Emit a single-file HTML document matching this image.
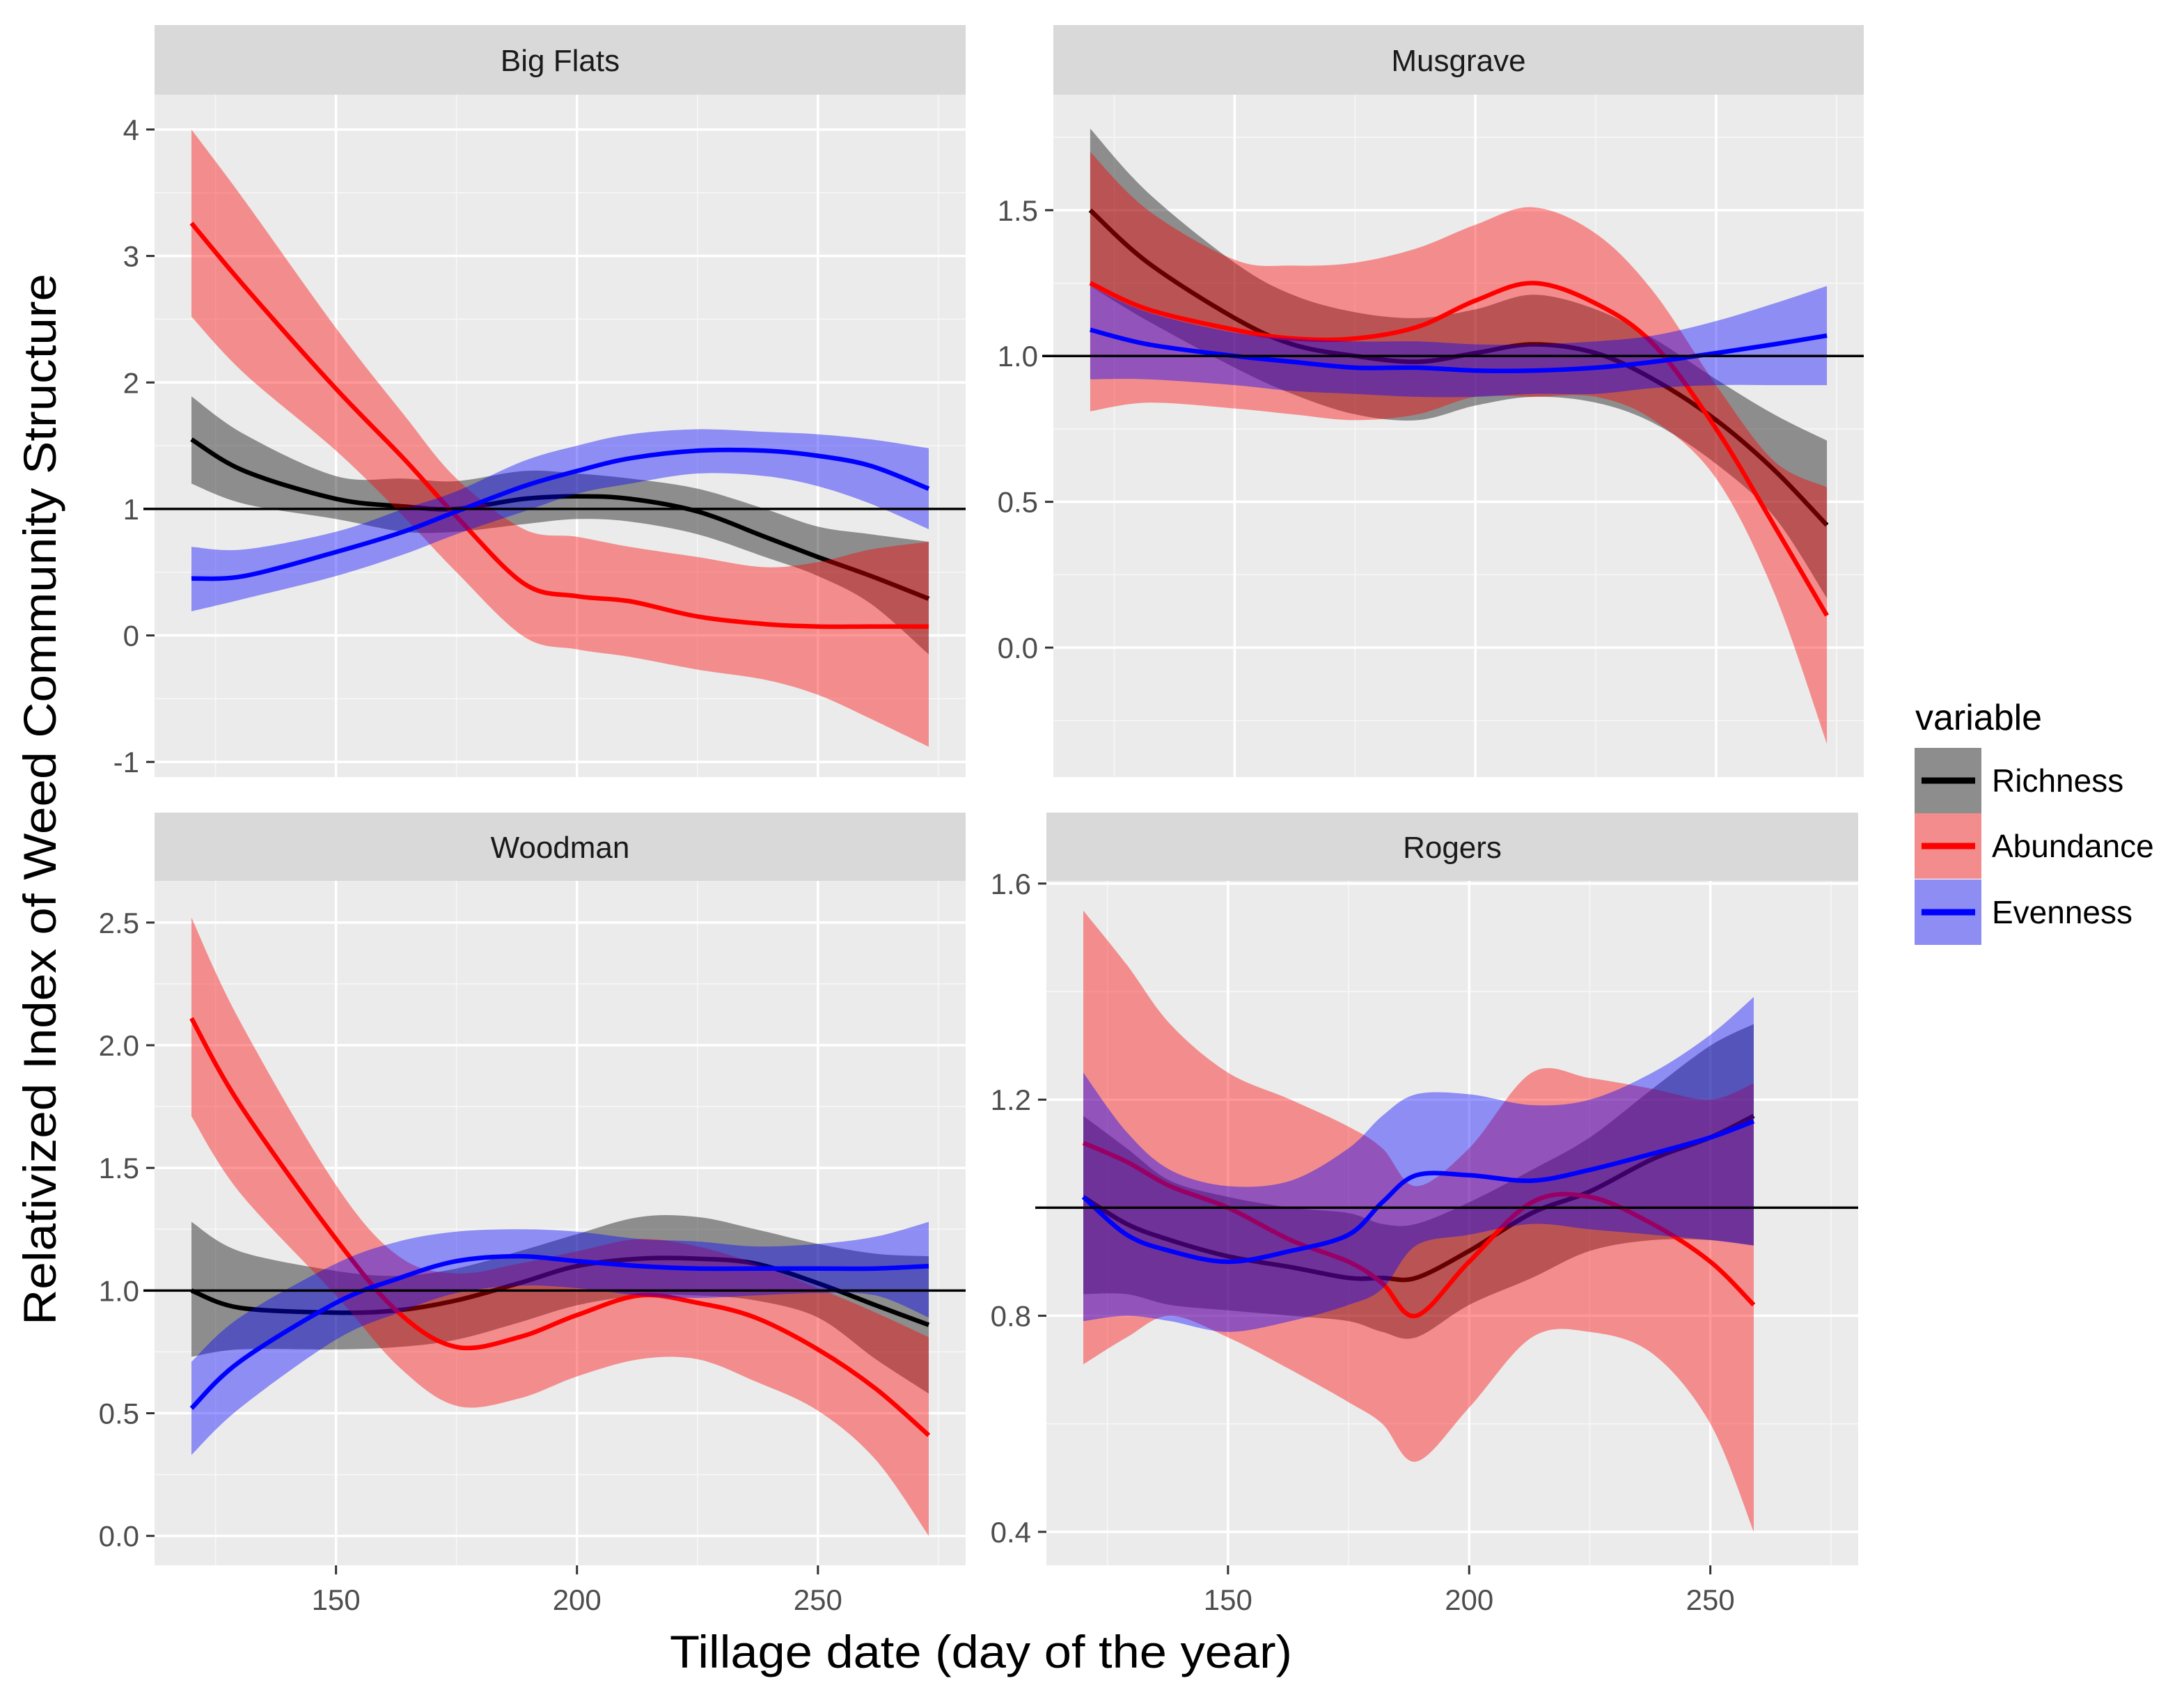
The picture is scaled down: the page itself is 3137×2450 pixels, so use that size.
<!DOCTYPE html>
<html><head><meta charset="utf-8"><title>Weed community structure vs tillage date</title>
<style>html,body{margin:0;padding:0;background:#fff}svg{display:block}text{font-family:"Liberation Sans",Arial,sans-serif}</style>
</head><body>
<svg id="chart" xmlns="http://www.w3.org/2000/svg" width="3137" height="2450" viewBox="0 0 3137 2450">
<rect x="0" y="0" width="3137" height="2450" fill="#fff"/>
<g id="panels"></g>
<text x="80" y="1148" font-size="66" fill="#000" text-anchor="middle" transform="rotate(-90 80 1148)" textLength="1510" lengthAdjust="spacingAndGlyphs">Relativized Index of Weed Community Structure</text>
<text x="1409" y="2395" font-size="66" fill="#000" text-anchor="middle" textLength="894" lengthAdjust="spacingAndGlyphs">Tillage date (day of the year)</text>
<g>
<text x="2751" y="1048" font-size="52" fill="#000">variable</text>
<g id="legend-keys"></g>
</g>
</svg>
<script>
// ---------- data ----------
const seriesNames = ["Richness", "Abundance", "Evenness"];
const seriesColors = ["#000000", "#ff0000", "#0000ff"];
const panelNames = ["Big Flats", "Musgrave", "Woodman", "Rogers"];

// Big Flats
const bfDays = [120,131,150,164,175,189,200,211,225,239,250,261,273];
const bfRich = [1.55,1.30,1.08,1.02,1.00,1.08,1.10,1.08,0.98,0.78,0.62,0.47,0.29];
const bfRichHi = [1.89,1.59,1.26,1.24,1.22,1.30,1.28,1.24,1.16,1.00,0.86,0.80,0.74];
const bfRichLo = [1.20,1.04,0.92,0.82,0.82,0.88,0.92,0.90,0.80,0.62,0.47,0.25,-0.15];
const bfAbun = [3.26,2.76,1.95,1.40,0.94,0.41,0.31,0.27,0.15,0.09,0.07,0.07,0.07];
const bfAbunHi = [4.00,3.44,2.43,1.75,1.24,0.84,0.78,0.70,0.62,0.54,0.58,0.68,0.74];
const bfAbunLo = [2.52,2.07,1.46,0.94,0.50,-0.01,-0.11,-0.17,-0.27,-0.35,-0.47,-0.66,-0.88];
const bfEven = [0.45,0.47,0.66,0.82,0.98,1.18,1.30,1.40,1.46,1.46,1.42,1.34,1.16];
const bfEvenHi = [0.70,0.68,0.82,1.00,1.14,1.38,1.50,1.59,1.63,1.61,1.59,1.55,1.48];
const bfEvenLo = [0.19,0.29,0.47,0.64,0.80,0.98,1.12,1.20,1.28,1.26,1.18,1.04,0.84];

// Musgrave
const muDays = [120,132,150,162,175,188,200,212,225,237,250,262,273];
const muRich = [1.50,1.32,1.13,1.04,1.00,0.98,1.01,1.04,1.01,0.92,0.78,0.61,0.42];
const muRichHi = [1.78,1.56,1.32,1.21,1.15,1.13,1.16,1.21,1.16,1.06,0.92,0.80,0.71];
const muRichLo = [1.24,1.12,0.96,0.87,0.80,0.78,0.83,0.86,0.84,0.77,0.63,0.45,0.17];
const muAbun = [1.25,1.16,1.09,1.06,1.06,1.10,1.19,1.25,1.18,1.04,0.75,0.42,0.11];
const muAbunHi = [1.70,1.50,1.33,1.31,1.32,1.37,1.45,1.51,1.42,1.22,0.90,0.64,0.55];
const muAbunLo = [0.81,0.84,0.82,0.80,0.78,0.80,0.86,0.86,0.86,0.78,0.58,0.19,-0.33];
const muEven = [1.09,1.04,1.00,0.98,0.96,0.96,0.95,0.95,0.96,0.98,1.01,1.04,1.07];
const muEvenHi = [1.24,1.15,1.08,1.06,1.05,1.05,1.04,1.04,1.05,1.07,1.12,1.18,1.24];
const muEvenLo = [0.92,0.92,0.90,0.88,0.87,0.86,0.86,0.87,0.87,0.89,0.90,0.90,0.90];

// Woodman
const woDays = [120,130,150,163,175,188,200,213,225,237,250,262,273];
const woRich = [1.00,0.93,0.91,0.92,0.96,1.03,1.10,1.13,1.13,1.11,1.03,0.94,0.86];
const woRichHi = [1.28,1.16,1.08,1.06,1.09,1.16,1.23,1.30,1.30,1.25,1.19,1.15,1.14];
const woRichLo = [0.73,0.76,0.76,0.77,0.80,0.87,0.94,0.98,0.98,0.96,0.89,0.72,0.58];
const woAbun = [2.11,1.76,1.21,0.91,0.77,0.81,0.90,0.98,0.95,0.89,0.76,0.60,0.41];
const woAbunHi = [2.52,2.10,1.43,1.14,1.07,1.11,1.16,1.21,1.18,1.11,1.01,0.91,0.81];
const woAbunLo = [1.71,1.40,0.98,0.69,0.53,0.56,0.65,0.72,0.72,0.63,0.51,0.31,0.00];
const woEven = [0.52,0.71,0.95,1.05,1.12,1.14,1.12,1.10,1.09,1.09,1.09,1.09,1.10];
const woEvenHi = [0.71,0.89,1.11,1.20,1.24,1.25,1.24,1.21,1.20,1.18,1.19,1.22,1.28];
const woEvenLo = [0.33,0.52,0.80,0.91,0.99,1.02,1.01,0.98,0.97,0.98,0.99,0.98,0.89];

// Rogers
const roDays = [120,129,138,150,163,175,182,189,200,213,225,238,250,259];
const roRich = [1.02,0.97,0.94,0.91,0.89,0.87,0.87,0.87,0.92,0.99,1.03,1.09,1.13,1.17];
const roRichHi = [1.17,1.11,1.05,1.02,1.00,0.99,0.97,0.97,1.01,1.07,1.13,1.22,1.30,1.34];
const roRichLo = [0.84,0.84,0.82,0.81,0.80,0.79,0.77,0.76,0.82,0.87,0.92,0.94,0.94,0.93];
const roAbun = [1.12,1.085,1.04,1.00,0.94,0.90,0.86,0.80,0.90,1.01,1.02,0.97,0.90,0.82];
const roAbunHi = [1.55,1.45,1.34,1.25,1.20,1.15,1.11,1.04,1.11,1.25,1.24,1.22,1.20,1.23];
const roAbunLo = [0.71,0.76,0.80,0.76,0.70,0.64,0.60,0.53,0.63,0.76,0.77,0.73,0.60,0.40];
const roEven = [1.02,0.95,0.92,0.90,0.92,0.95,1.01,1.06,1.06,1.05,1.07,1.10,1.13,1.16];
const roEvenHi = [1.25,1.14,1.07,1.04,1.05,1.11,1.17,1.21,1.21,1.19,1.20,1.25,1.32,1.39];
const roEvenLo = [0.79,0.80,0.79,0.77,0.79,0.82,0.85,0.93,0.95,0.97,0.96,0.95,0.94,0.93];

// axis ticks
const xTicks = [150, 200, 250];
const xMinor = [125, 175, 225, 275];
const bfYTicks = [-1, 0, 1, 2, 3, 4];
const bfYLabels = ["-1", "0", "1", "2", "3", "4"];
const muYTicks = [0.0, 0.5, 1.0, 1.5];
const muYLabels = ["0.0", "0.5", "1.0", "1.5"];
const woYTicks = [0.0, 0.5, 1.0, 1.5, 2.0, 2.5];
const woYLabels = ["0.0", "0.5", "1.0", "1.5", "2.0", "2.5"];
const roYTicks = [0.4, 0.8, 1.2, 1.6];
const roYLabels = ["0.4", "0.8", "1.2", "1.6"];
const refLine = 1;

// ---------- layout ----------
const NS = "http://www.w3.org/2000/svg";
const xDomain = [112.35, 280.65];
const panels = [
  {name: panelNames[0], key: "big-flats", x0: 222, x1: 1387, s0: 36, y0: 136, y1: 1116, yDom: [-1.12, 4.275], ticks: bfYTicks, labels: bfYLabels, xLabels: false,
   days: bfDays, mid: [bfRich, bfAbun, bfEven], hi: [bfRichHi, bfAbunHi, bfEvenHi], lo: [bfRichLo, bfAbunLo, bfEvenLo]},
  {name: panelNames[1], key: "musgrave", x0: 1513, x1: 2677, s0: 36, y0: 136, y1: 1116, yDom: [-0.444, 1.896], ticks: muYTicks, labels: muYLabels, xLabels: false,
   days: muDays, mid: [muRich, muAbun, muEven], hi: [muRichHi, muAbunHi, muEvenHi], lo: [muRichLo, muAbunLo, muEvenLo]},
  {name: panelNames[2], key: "woodman", x0: 222, x1: 1387, s0: 1167, y0: 1265, y1: 2248, yDom: [-0.12, 2.67], ticks: woYTicks, labels: woYLabels, xLabels: true,
   days: woDays, mid: [woRich, woAbun, woEven], hi: [woRichHi, woAbunHi, woEvenHi], lo: [woRichLo, woAbunLo, woEvenLo]},
  {name: panelNames[3], key: "rogers", x0: 1503, x1: 2669, s0: 1167, y0: 1265, y1: 2248, yDom: [0.338, 1.605], ticks: roYTicks, labels: roYLabels, xLabels: true,
   days: roDays, mid: [roRich, roAbun, roEven], hi: [roRichHi, roAbunHi, roEvenHi], lo: [roRichLo, roAbunLo, roEvenLo]}
];

function mk(tag, attrs, parent) {
  const el = document.createElementNS(NS, tag);
  for (const k in attrs) el.setAttribute(k, attrs[k]);
  parent.appendChild(el);
  return el;
}
function smoothPath(pts) {
  let d = "M" + pts[0][0].toFixed(1) + "," + pts[0][1].toFixed(1);
  for (let i = 0; i < pts.length - 1; i++) {
    const p0 = pts[Math.max(0, i - 1)], p1 = pts[i], p2 = pts[i + 1], p3 = pts[Math.min(pts.length - 1, i + 2)];
    const c1x = p1[0] + (p2[0] - p0[0]) / 6, c1y = p1[1] + (p2[1] - p0[1]) / 6;
    const c2x = p2[0] - (p3[0] - p1[0]) / 6, c2y = p2[1] - (p3[1] - p1[1]) / 6;
    d += " C" + c1x.toFixed(1) + "," + c1y.toFixed(1) + " " + c2x.toFixed(1) + "," + c2y.toFixed(1) + " " + p2[0].toFixed(1) + "," + p2[1].toFixed(1);
  }
  return d;
}

const root = document.getElementById("panels");
panels.forEach(function (p) {
  const xs = function (v) { return p.x0 + (v - xDomain[0]) / (xDomain[1] - xDomain[0]) * (p.x1 - p.x0); };
  const ys = function (v) { return p.y1 - (v - p.yDom[0]) / (p.yDom[1] - p.yDom[0]) * (p.y1 - p.y0); };
  const g = mk("g", {}, root);
  
  

  const strip = mk("rect", {x: p.x0, y: p.s0, width: p.x1 - p.x0, height: p.y0 - p.s0, fill: "#d9d9d9"}, g);
  
  
  const st = mk("text", {x: (p.x0 + p.x1) / 2, y: (p.s0 + p.y0) / 2 + 16, "font-size": 44, fill: "#1a1a1a", "text-anchor": "middle"}, g);
  st.textContent = p.name;
  
  

  const bg = mk("rect", {x: p.x0, y: p.y0, width: p.x1 - p.x0, height: p.y1 - p.y0, fill: "#ebebeb"}, g);
  
  

  // minor y gridlines
  for (let i = 0; i < p.ticks.length + 1; i++) {
    const v = (i === 0) ? p.ticks[0] - (p.ticks[1] - p.ticks[0]) / 2 : (p.ticks[i - 1] + (p.ticks[1] - p.ticks[0]) / 2);
    const y = ys(v);
    if (y < p.y0 || y > p.y1) continue;
    const l = mk("line", {x1: p.x0, x2: p.x1, y1: y, y2: y, stroke: "#f7f7f7", "stroke-width": 1.6}, g);
    
    
  }
  xMinor.forEach(function (v) {
    const x = xs(v);
    const l = mk("line", {x1: x, x2: x, y1: p.y0, y2: p.y1, stroke: "#f7f7f7", "stroke-width": 1.6}, g);
    
    
  });
  p.ticks.forEach(function (v, i) {
    const y = ys(v);
    const l = mk("line", {x1: p.x0, x2: p.x1, y1: y, y2: y, stroke: "#fff", "stroke-width": 3.5}, g);
    
    
    const t = mk("line", {x1: p.x0 - 12, x2: p.x0, y1: y, y2: y, stroke: "#333", "stroke-width": 3}, g);
    
    
    const lb = mk("text", {x: p.x0 - 22, y: y + 15, "font-size": 42, fill: "#4d4d4d", "text-anchor": "end"}, g);
    lb.textContent = p.labels[i];
    
    
  });
  xTicks.forEach(function (v) {
    const x = xs(v);
    const l = mk("line", {x1: x, x2: x, y1: p.y0, y2: p.y1, stroke: "#fff", "stroke-width": 3.5}, g);
    
    
    if (p.xLabels) {
      const t = mk("line", {x1: x, x2: x, y1: p.y1, y2: p.y1 + 13, stroke: "#333", "stroke-width": 3}, g);
      
      
      const lb = mk("text", {x: x, y: p.y1 + 64, "font-size": 42, fill: "#4d4d4d", "text-anchor": "middle"}, g);
      lb.textContent = String(v);
      
      
    }
  });

  // clip
  const cid = "clip-" + p.key;
  const cp = mk("clipPath", {id: cid}, g);
  mk("rect", {x: p.x0, y: p.y0, width: p.x1 - p.x0, height: p.y1 - p.y0}, cp);
  const dg = mk("g", {"clip-path": "url(#" + cid + ")"}, g);
  
  

  for (let s = 0; s < 3; s++) {
    const hiPts = p.days.map(function (d, i) { return [xs(d), ys(p.hi[s][i])]; });
    const loPts = p.days.map(function (d, i) { return [xs(d), ys(p.lo[s][i])]; }).reverse();
    const dHi = smoothPath(hiPts);
    const dLo = smoothPath(loPts).replace(/^M/, "L");
    const rib = mk("path", {d: dHi + " " + dLo + " Z", fill: seriesColors[s], "fill-opacity": 0.4}, dg);
    
    
    const pts = p.days.map(function (d, i) { return [xs(d), ys(p.mid[s][i])]; });
    const ln = mk("path", {d: smoothPath(pts), fill: "none", stroke: seriesColors[s], "stroke-width": 6.5, "stroke-linecap": "butt", "stroke-linejoin": "round"}, dg);
    
    
  }
  const hy = ys(refLine);
  const hl = mk("line", {x1: p.x0 - 16, x2: p.x1, y1: hy, y2: hy, stroke: "#000", "stroke-width": 3.5}, g);
  
  
});

// legend
const lk = document.getElementById("legend-keys");
const rowTops = [1074, 1168, 1263];
seriesNames.forEach(function (n, i) {
  const g = mk("g", {}, lk);
  
  
  const y = rowTops[i];
  mk("rect", {x: 2750, y: y, width: 96, height: 94, fill: "#ebebeb"}, g);
  mk("rect", {x: 2750, y: y, width: 96, height: 94, fill: seriesColors[i], "fill-opacity": 0.4}, g);
  mk("line", {x1: 2760, x2: 2837, y1: y + 47, y2: y + 47, stroke: seriesColors[i], "stroke-width": 9}, g);
  const t = mk("text", {x: 2861, y: y + 63, "font-size": 46, fill: "#000"}, g);
  t.textContent = n;
  
  
});
</script>
</body></html>
